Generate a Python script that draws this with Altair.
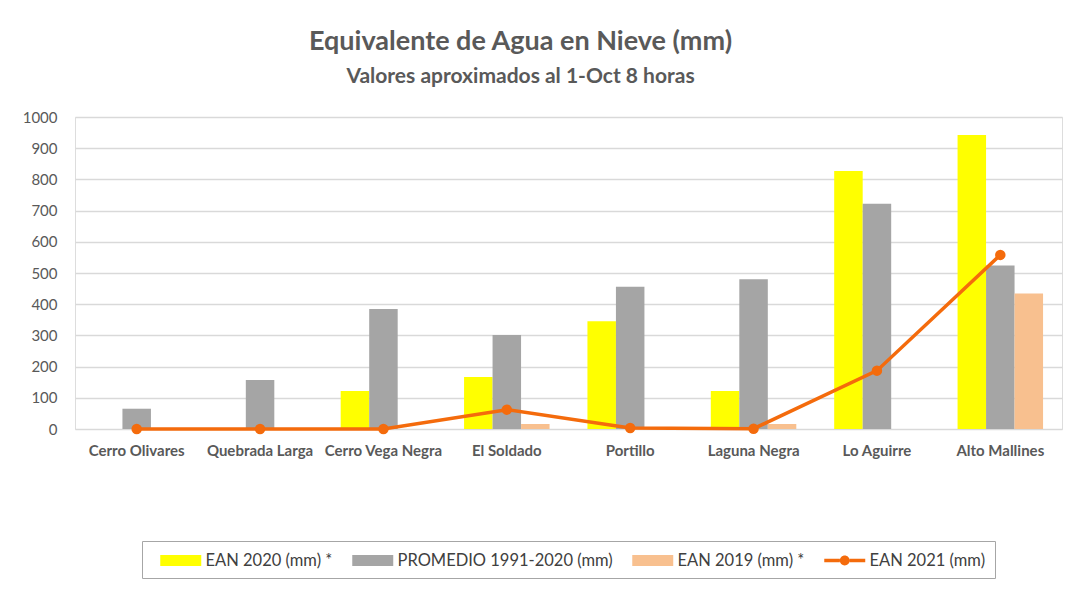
import altair as alt
import pandas as pd

categories = ["Cerro Olivares", "Quebrada Larga", "Cerro Vega Negra", "El Soldado",
              "Portillo", "Laguna Negra", "Lo Aguirre", "Alto Mallines"]
ean2020 = [None, None, 122, 167, 345, 122, 827, 942]
promedio = [65, 157, 385, 301, 456, 480, 722, 524]
ean2019 = [None, None, None, 16, None, 16, None, 434]
ean2021 = [0, 0, 0, 62, 3, 1, 187, 558]

s2020 = "EAN 2020 (mm) *"
sprom = "PROMEDIO 1991-2020 (mm)"
s2019 = "EAN 2019 (mm) *"
s2021 = "EAN 2021 (mm)"
series = [s2020, sprom, s2019, s2021]
bar_series = [s2020, sprom, s2019]
colors = ["#ffff00", "#a5a5a5", "#f8c08f", "#f46b0c"]

rows = []
for i, c in enumerate(categories):
    for s, vals in zip(bar_series, [ean2020, promedio, ean2019]):
        if vals[i] is not None:
            rows.append({"cat": c, "serie": s, "value": vals[i]})
bars_df = pd.DataFrame(rows)
line_df = pd.DataFrame({"cat": categories, "serie": s2021, "value": ean2021})

rect_path = "M-2,-0.54H2V0.54H-2Z"
line_path = ("M-2,-0.18H-0.48V0.18H-2Z M0.48,-0.18H2V0.18H0.48Z "
             "M0.48,0A0.48,0.48 0 1 1 -0.48,0A0.48,0.48 0 1 1 0.48,0Z")

x_enc = alt.X("cat:N", sort=categories, title=None,
              scale=alt.Scale(paddingInner=0.307, paddingOuter=0.1535),
              axis=alt.Axis(labelAngle=0, labelFont="Lato", labelFontSize=15,
                            labelFontWeight="bold", labelColor="#595959",
                            labelPadding=14, domain=False, ticks=False, grid=False))
y_enc = alt.Y("value:Q", title=None,
              scale=alt.Scale(domain=[0, 1000]),
              axis=alt.Axis(values=list(range(0, 1001, 100)), format="d",
                            labelFont="Lato", labelFontSize=15, labelColor="#595959",
                            labelPadding=18, domain=False, ticks=False,
                            gridColor="#d9d9d9", gridWidth=1.5,
                            minExtent=52, maxExtent=52))

legend = alt.Legend(title=None, orient="none", legendX=67, legendY=424,
                    direction="horizontal", labelFont="Lato", labelFontSize=16.5,
                    labelColor="#404040", labelLimit=400, symbolSize=420,
                    symbolStrokeWidth=0, symbolOffset=19.25, labelOffset=14.25,
                    padding=9, strokeColor="#a6a6a6",
                    fillColor="white", columnPadding=10)
color_scale = alt.Scale(domain=series, range=colors)

bars = alt.Chart(bars_df).mark_bar().encode(
    x=x_enc,
    y=y_enc,
    xOffset=alt.XOffset("serie:N", sort=bar_series,
                        scale=alt.Scale(domain=bar_series, paddingInner=0, paddingOuter=0)),
    color=alt.Color("serie:N", scale=color_scale, legend=legend),
)

line = alt.Chart(line_df).mark_line(
    color="#f46b0c", strokeWidth=3.5,
    point=alt.OverlayMarkDef(filled=True, size=110, color="#f46b0c", opacity=1),
).encode(x=x_enc, y=y_enc)

legend_layer = alt.Chart(line_df).transform_filter("datum.value < -1").mark_point(
    filled=True, opacity=1
).encode(
    x=x_enc,
    y=y_enc,
    color=alt.Color("serie:N", scale=color_scale, legend=legend),
    shape=alt.Shape("serie:N", scale=alt.Scale(domain=series,
                                               range=[rect_path, rect_path, rect_path, line_path]),
                    legend=legend),
)

chart = alt.layer(bars, line, legend_layer).properties(
    width=987, height=312,
    padding={"left": 14, "top": 20, "right": 8, "bottom": 20},
    title=alt.TitleParams(
        text="Equivalente de Agua en Nieve (mm)",
        subtitle="Valores aproximados al 1-Oct 8 horas",
        font="Lato", fontSize=27, fontWeight="bold", color="#595959",
        subtitleFont="Lato", subtitleFontSize=21, subtitleFontWeight="bold",
        subtitleColor="#595959", subtitlePadding=10, anchor="middle", dx=-48, offset=22,
    ),
).configure_view(stroke=None).configure(background="white")

chart.save("out.html", embed_options={"renderer": "svg", "actions": False})
